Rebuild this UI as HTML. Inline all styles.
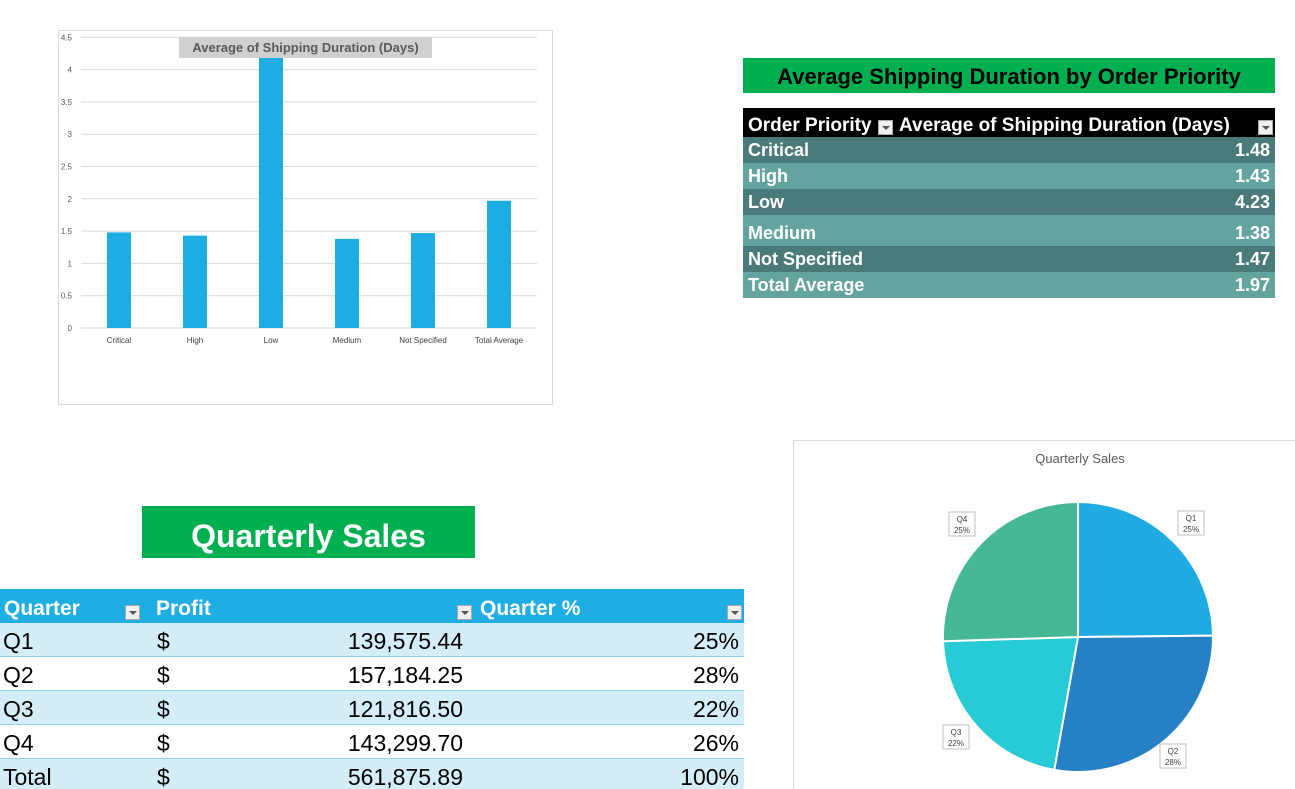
<!DOCTYPE html>
<html><head><meta charset="utf-8">
<style>
html,body{margin:0;padding:0;background:#fff;width:1295px;height:789px;overflow:hidden;position:relative;font-family:"Liberation Sans",sans-serif;}
.abs{position:absolute;}
.dd{position:absolute;width:15px;height:15px;background:#f0f0f0;border:1px solid #aaa;box-sizing:border-box;}
.dd:after{content:"";position:absolute;left:3px;top:5px;border-left:4px solid transparent;border-right:4px solid transparent;border-top:4px solid #555;}
.pr{position:absolute;left:743px;width:532px;color:#fff;font-weight:bold;font-size:18px;}
.pr span{position:absolute;left:5px;bottom:2px;}
.pr b{position:absolute;right:5px;bottom:2px;}
.qr{position:absolute;left:0;width:744px;height:34px;font-size:23px;color:#000;border-bottom:1px solid #8fd3ee;box-sizing:border-box;}
.qr span{position:absolute;bottom:1px;}
</style></head><body>

<div class="abs" style="left:58px;top:30px;width:495px;height:375px;border:1px solid #d9d9d9;box-sizing:border-box;"></div>
<svg class="abs" style="left:0;top:0" width="600" height="420">
<g id="bars"></g>
</svg>

<div class="abs" style="left:743px;top:58px;width:532px;height:35px;background:#00b050;color:#000;font-weight:bold;font-size:22px;text-align:center;line-height:38px;">Average Shipping Duration by Order Priority</div>
<div class="abs" style="left:743px;top:108px;width:532px;height:29px;background:#000;color:#fff;font-weight:bold;font-size:19px;">
<span style="position:absolute;left:5px;bottom:0px;">Order Priority</span>
<div class="dd" style="left:135px;top:12px;"></div>
<span style="position:absolute;left:156px;bottom:0px;">Average of Shipping Duration (Days)</span>
<div class="dd" style="left:515px;top:12px;"></div>
</div>
<div id="ptable"></div>

<div class="abs" style="left:142px;top:506px;width:333px;height:52px;background:#00b050;color:#fff;font-weight:bold;font-size:32px;text-align:center;line-height:60px;">Quarterly Sales</div>
<div class="abs" style="left:0;top:589px;width:744px;height:34px;background:#1eaee3;color:#fff;font-weight:bold;font-size:21px;">
<span style="position:absolute;left:4px;bottom:2px;">Quarter</span>
<div class="dd" style="left:125px;top:16px;"></div>
<span style="position:absolute;left:156px;bottom:2px;">Profit</span>
<div class="dd" style="left:457px;top:16px;"></div>
<span style="position:absolute;left:480px;bottom:2px;">Quarter %</span>
<div class="dd" style="left:727px;top:16px;"></div>
</div>
<div id="qtable"></div>

<div class="abs" style="left:793px;top:440px;width:510px;height:360px;border:1px solid #d9d9d9;box-sizing:border-box;"></div>
<svg class="abs" style="left:793px;top:440px" width="502" height="349">
<text x="287" y="23" text-anchor="middle" font-size="13" fill="#595959">Quarterly Sales</text>
<g id="pie"></g>
</svg>

<script>
const cats=["Critical","High","Low","Medium","Not Specified","Total Average"];
const durations=[1.48,1.43,4.23,1.38,1.47,1.97];
const durLabels=["1.48","1.43","4.23","1.38","1.47","1.97"];
const yTicks=[0,0.5,1,1.5,2,2.5,3,3.5,4,4.5];
const quarters=["Q1","Q2","Q3","Q4"];
const profits=[139575.44,157184.25,121816.50,143299.70];
const profitLabels=["139,575.44","157,184.25","121,816.50","143,299.70"];
const pctLabels=["25%","28%","22%","26%"];
const piePctLabels=["25%","28%","22%","25%"];
const pieColors=["#1fabe2","#2580c4","#26cbd6","#45b896"];

const NS="http://www.w3.org/2000/svg";
function mk(tag,attrs,parent){const e=document.createElementNS(NS,tag);for(const k in attrs)e.setAttribute(k,attrs[k]);parent.appendChild(e);return e;}

const g=document.getElementById('bars');
const x0=81,x1=537,y0=328,yTop=37.3,ymax=4.5;
const ys=v=>y0-(v/ymax)*(y0-yTop);
const bw=(x1-x0)/cats.length;
yTicks.forEach(t=>{
  const l=mk('line',{x1:x0,x2:x1,y1:ys(t),y2:ys(t),stroke:'#d9d9d9','stroke-width':1},g);
  
  
  const tx=mk('text',{x:72,y:ys(t)+3,'text-anchor':'end','font-size':8,fill:'#595959'},g);
  tx.textContent=String(t);
  
  
});
cats.forEach((c,i)=>{
  const cx=x0+bw*(i+0.5);
  const r=mk('rect',{x:cx-12,y:ys(durations[i]),width:24,height:y0-ys(durations[i]),fill:'#1eade2'},g);
  
  
  const tx=mk('text',{x:cx,y:343,'text-anchor':'middle','font-size':8,fill:'#404040'},g);
  tx.textContent=c;
  
  
});
const tb=mk('rect',{x:179,y:37,width:253,height:21,fill:'#d0d0d0'},g);


const tt=mk('text',{x:305.5,y:52,'text-anchor':'middle','font-size':13,'font-weight':'bold',fill:'#595959'},g);
tt.textContent="Average of Shipping Duration (Days)";



const pt=document.getElementById('ptable');
const rowTops=[137,163,189,215,246,272,298];
cats.forEach((c,i)=>{
  const d=document.createElement('div');
  d.className='pr';
  d.style.top=rowTops[i]+'px';
  d.style.height=(rowTops[i+1]-rowTops[i])+'px';
  d.style.background=i%2===0?'#4a7b7a':'#63a49f';
  d.innerHTML='<span>'+c+'</span><b>'+durLabels[i]+'</b>';
  
  
  pt.appendChild(d);
});

const qt=document.getElementById('qtable');
const qRows=quarters.concat(["Total"]);
const tot=profits.reduce((a,b)=>a+b,0);
qRows.forEach((q,i)=>{
  const d=document.createElement('div');
  d.className='qr';
  d.style.top=(623+34*i)+'px';
  d.style.background=i%2===0?'#d3eef8':'#fff';
  const pl=i<4?profitLabels[i]:"561,875.89";
  const pc=i<4?pctLabels[i]:"100%";
  d.innerHTML='<span style="left:3px">'+q+'</span><span style="left:157px">$</span><span style="right:281px">'+pl+'</span><span style="right:5px">'+pc+'</span>';
  
  
  qt.appendChild(d);
});

const pg=document.getElementById('pie');
const cx=285,cy=197,R=135;
let a=0;
const lblPos=[[398,84],[380,317],[163,298],[169,85]];
profits.forEach((p,i)=>{
  const f=p/tot;
  const a0=a,a1=a+f*2*Math.PI;a=a1;
  const p0=[cx+R*Math.sin(a0),cy-R*Math.cos(a0)],p1=[cx+R*Math.sin(a1),cy-R*Math.cos(a1)];
  const large=f>0.5?1:0;
  const s=mk('path',{d:`M${cx},${cy} L${p0[0]},${p0[1]} A${R},${R} 0 ${large} 1 ${p1[0]},${p1[1]} Z`,fill:pieColors[i],stroke:'#fff','stroke-width':2},pg);
  
  
  const [lx,ly]=lblPos[i];
  const b=mk('rect',{x:lx-13,y:ly-13,width:26,height:24,fill:'#fff',stroke:'#bfbfbf'},pg);
  
  
  const t1=mk('text',{x:lx,y:ly-3,'text-anchor':'middle','font-size':8,fill:'#404040'},pg);
  t1.textContent=quarters[i];
  
  
  const t2=mk('text',{x:lx,y:ly+8,'text-anchor':'middle','font-size':8,fill:'#404040'},pg);
  t2.textContent=piePctLabels[i];
  
  
});
</script>
</body></html>
